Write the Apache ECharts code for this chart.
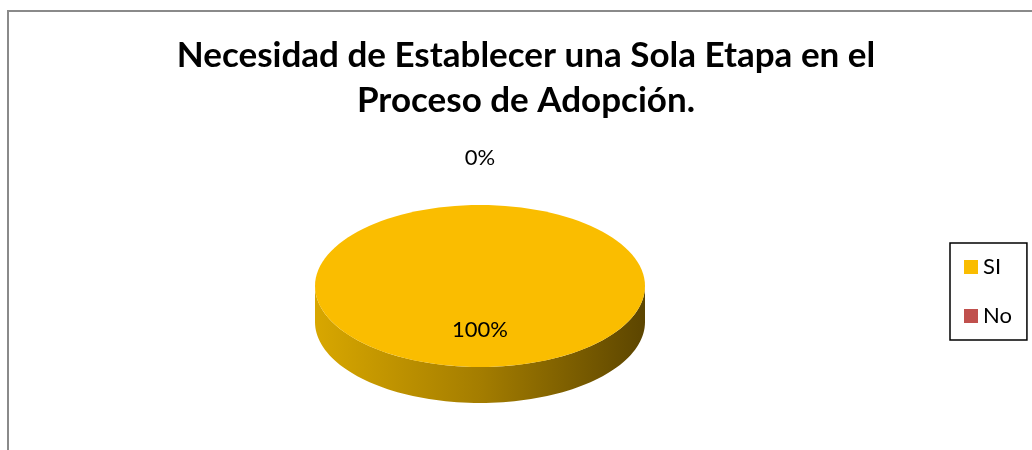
<!DOCTYPE html>
<html>
<head>
<meta charset="utf-8">
<script src="https://cdn.jsdelivr.net/npm/echarts@6/dist/echarts.min.js"></script>
<style>
  html, body { margin: 0; padding: 0; background: #fff; }
  #chart { width: 1032px; height: 450px; }
</style>
</head>
<body>
<div id="chart"></div>
<script>
const titleLines = ["Necesidad de Establecer una Sola Etapa en el", "Proceso de Adopción."];
const categories = ["SI", "No"];
const values = [100, 0];
const labels = ["100%", "0%"];

const topColors = ["#fabd00", "#c0504d"];
const sideColors = [
  ["#d8a700", "#a47d00", "#5c4500"],
  ["#a03c3a", "#7a2c2a", "#4a1a19"],
];

// pie geometry (pixels)
const pie = { cx: 480, cy: 286, rx: 165, ry: 81, depth: 36 };
const font = "Lato";

const total = values.reduce((a, b) => a + b, 0);
const starts = values.map((v, i) => values.slice(0, i).reduce((a, b) => a + b, 0));

function pt(deg, f, dy) {
  const r = (deg * Math.PI) / 180;
  return [pie.cx + pie.rx * f * Math.sin(r), pie.cy - pie.ry * f * Math.cos(r) + (dy || 0)];
}

function arcPoints(a, b, dy) {
  const pts = [];
  const n = Math.max(2, Math.ceil((b - a) / 2));
  for (let k = 0; k <= n; k++) pts.push(pt(a + ((b - a) * k) / n, 1, dy));
  return pts;
}

function makeRender(idx) {
  return function (params, api) {
    const v = api.value(0);
    const a = (starts[idx] / total) * 360;
    const b = a + (v / total) * 360;
    const children = [];

    // front wall, only the part facing the viewer (90..270 deg)
    const s0 = Math.max(a, 90), s1 = Math.min(b, 270);
    if (s1 > s0) {
      const top = arcPoints(s0, s1, 0);
      const bottom = arcPoints(s0, s1, pie.depth).reverse();
      children.push({
        type: "polygon",
        shape: { points: top.concat(bottom) },
        style: {
          fill: new echarts.graphic.LinearGradient(0, 0, 1, 0, [
            { offset: 0, color: sideColors[idx][0] },
            { offset: 0.5, color: sideColors[idx][1] },
            { offset: 1, color: sideColors[idx][2] },
          ]),
        },
      });
    }

    // top face
    if (b - a >= 359.999) {
      children.push({
        type: "ellipse",
        shape: { cx: pie.cx, cy: pie.cy, rx: pie.rx, ry: pie.ry },
        style: { fill: topColors[idx] },
      });
    } else if (b > a) {
      children.push({
        type: "polygon",
        shape: { points: [[pie.cx, pie.cy]].concat(arcPoints(a, b, 0)) },
        style: { fill: topColors[idx] },
      });
    }

    // data label
    const mid = (a + b) / 2;
    const lp = v > 0 ? pt(mid, 0.54, 0) : pt(mid, 1.58, 0);
    children.push({
      type: "text",
      z2: 10,
      style: {
        text: labels[idx],
        x: lp[0],
        y: lp[1],
        align: "center",
        verticalAlign: "middle",
        fill: "#000",
        font: "22px " + font,
      },
    });

    return { type: "group", children: children };
  };
}

const chart = echarts.init(document.getElementById("chart"));

chart.setOption({
  animation: false,
  title: {
    text: titleLines.join("\n"),
    left: 521,
    top: 28,
    textAlign: "center",
    textStyle: { fontFamily: font, fontWeight: "bold", fontSize: 35, lineHeight: 45, color: "#000" },
  },
  legend: {
    orient: "vertical",
    left: 950,
    top: 243,
    data: categories,
    icon: "rect",
    itemWidth: 14,
    itemHeight: 14,
    itemGap: 25,
    padding: [12, 15, 12, 14],
    borderColor: "#000",
    borderWidth: 1.5,
    textStyle: { fontFamily: font, fontSize: 22, color: "#000", lineHeight: 24 },
  },
  graphic: [
    {
      type: "rect",
      shape: { x: 8, y: 11, width: 1100, height: 500 },
      style: { fill: null, stroke: "#8a8a8a", lineWidth: 2 },
      silent: true,
    },
  ],
  series: categories.map((name, i) => ({
    name: name,
    type: "custom",
    coordinateSystem: "none",
    itemStyle: { color: topColors[i] },
    renderItem: makeRender(i),
    data: [[values[i]]],
  })),
});
</script>
</body>
</html>
